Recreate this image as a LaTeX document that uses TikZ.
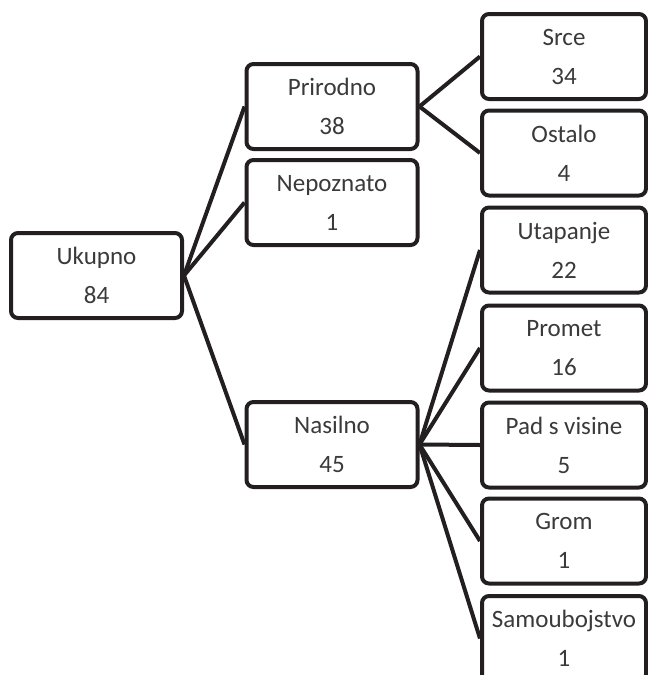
\documentclass[tikz,border=0pt]{standalone}
\usepackage{fontspec}
\setmainfont{Carlito}
\definecolor{boxline}{HTML}{231F20}
\definecolor{boxtext}{HTML}{3A3A3A}
\tikzset{
    cat/.style={draw=boxline, line width=4pt, rounded corners=7pt, fill=white,
        minimum height=85pt, inner sep=0pt, align=center, text=boxtext,
        font=\fontsize{25}{39}\selectfont},
    catwide/.style={cat, minimum width=171pt},
    catnarrow/.style={cat, minimum width=164pt},
    link/.style={draw=boxline, line width=4pt}
}
\begin{document}
\begin{tikzpicture}[x=1pt,y=-1pt]
    \useasboundingbox (0,0) rectangle (648,675);
    \clip (0,0) rectangle (648,675);
    \node[catwide] (ukupno) at (96.5,275.5) {Ukupno\\84};
    \node[catwide] (prirodno) at (332,106.5) {Prirodno\\38};
    \node[catwide] (nepoznato) at (332,202.5) {Nepoznato\\1};
    \node[catwide] (nasilno) at (332,444.5) {Nasilno\\45};
    \node[catnarrow] (srce) at (564,56.5) {Srce\\34};
    \node[catnarrow] (ostalo) at (564,153) {Ostalo\\4};
    \node[catnarrow] (utapanje) at (564,250) {Utapanje\\22};
    \node[catnarrow] (promet) at (564,348) {Promet\\16};
    \node[catnarrow] (pad) at (564,445) {Pad s visine\\5};
    \node[catnarrow] (grom) at (564,541) {Grom\\1};
    \node[catnarrow] (samoubojstvo) at (564,638.5) {Samoubojstvo\\1};
    \foreach \t in {prirodno,nepoznato,nasilno}
        \draw[link] (ukupno.east) -- (\t.west);
    \foreach \t in {srce,ostalo}
        \draw[link] (prirodno.east) -- (\t.west);
    \foreach \t in {utapanje,promet,pad,grom,samoubojstvo}
        \draw[link] (nasilno.east) -- (\t.west);
\end{tikzpicture}
\end{document}
